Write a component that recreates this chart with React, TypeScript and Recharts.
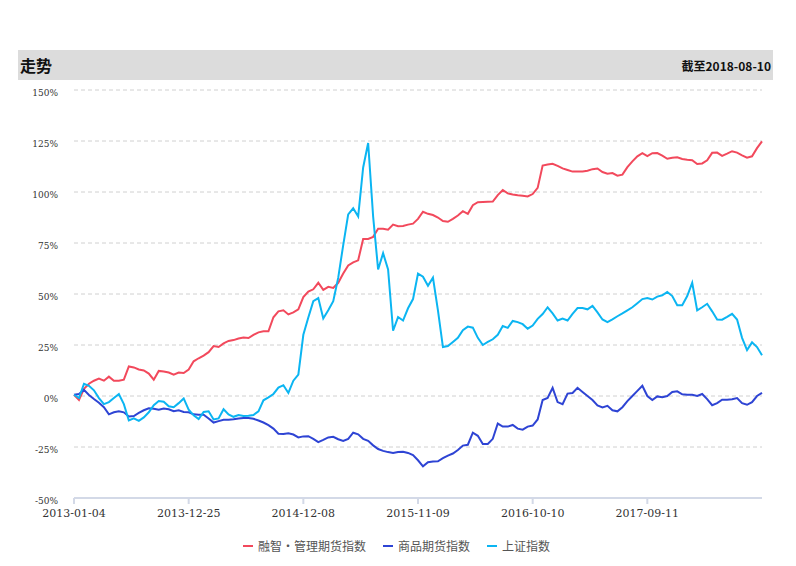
import { LineChart, Line, XAxis, YAxis, CartesianGrid } from "recharts";

const tickLabels = ["2013-01-04", "2013-12-25", "2014-12-08", "2015-11-09", "2016-10-10", "2017-09-11"];
const tickAt = [0, 23, 46, 69, 92, 115];
const yTicks = [-50, -25, 0, 25, 50, 75, 100, 125, 150];

const seriesNames = ["融智·管理期货指数", "商品期货指数", "上证指数"];
const seriesKeys = ["ronzhi", "commodity", "shanghai"];
const COLORS = ["#f2495c", "#2e44d4", "#0bb5f2"];

// cumulative return in %, one value per sample (~10 trading days apart)
const ronzhi = [
  0.6, -2.0, 3.5, 6.0, 7.5, 8.5, 7.5, 9.5, 7.5, 7.5,
  8.0, 14.5, 14.0, 13.0, 12.5, 11.0, 8.0, 12.3, 12.0, 11.5,
  10.5, 11.5, 11.3, 13.0, 17.0, 18.5, 19.8, 21.5, 24.5, 24.0,
  25.8, 27.0, 27.4, 28.2, 28.7, 28.4, 30.0, 31.2, 31.7, 31.7,
  38.6, 41.5, 42.0, 40.0, 41.0, 42.5, 48.5, 51.2, 52.3, 55.5,
  52.0, 53.5, 53.0, 55.5, 60.0, 64.0, 65.5, 66.5, 77.0, 77.0,
  78.0, 82.0, 82.0, 81.5, 84.0, 83.2, 83.3, 84.0, 84.5, 86.8,
  90.3, 89.3, 88.7, 87.5, 85.8, 85.4, 86.8, 88.5, 90.6, 89.3,
  93.5, 95.0, 95.1, 95.2, 95.3, 98.5, 101.0, 99.3, 98.8, 98.4,
  98.2, 97.8, 99.0, 102.0, 113.0, 113.5, 113.8, 112.8, 111.6, 110.8,
  110.0, 110.0, 110.0, 110.4, 111.2, 111.5, 109.8, 109.0, 109.3, 108.0,
  108.5, 112.2, 115.0, 117.5, 119.0, 117.6, 119.0, 119.1, 117.8, 116.3,
  116.8, 117.0, 116.2, 115.8, 115.6, 113.7, 114.0, 115.5, 119.2, 119.3,
  117.7, 118.8, 120.0, 119.3, 118.0, 116.8, 117.5, 121.5, 124.8,
];

const commodity = [
  0.6, 1.0, 3.0, 0.5, -1.5, -3.3, -5.5, -9.0, -8.0, -7.5,
  -8.0, -10.0, -9.8, -8.3, -7.0, -6.0, -6.3, -6.7, -6.1, -6.5,
  -7.5, -7.0, -7.8, -8.0, -9.0, -9.2, -9.2, -11.0, -13.0, -12.3,
  -11.6, -11.6, -11.4, -11.0, -10.8, -10.8, -11.2, -12.0, -13.0, -14.3,
  -16.0, -18.5, -18.6, -18.3, -18.9, -20.3, -19.8, -19.7, -21.0, -22.6,
  -21.5, -20.3, -20.0, -21.2, -22.0, -21.0, -18.0, -18.8, -21.0, -22.0,
  -24.2, -26.0, -26.9, -27.5, -27.9, -27.4, -27.3, -27.9, -29.0, -31.5,
  -34.5, -32.5, -32.1, -32.0, -30.5, -29.2, -28.2, -26.5, -24.3, -23.9,
  -18.0, -19.5, -23.5, -23.5, -21.0, -13.5, -15.0, -15.0, -14.2, -16.0,
  -16.5, -15.0, -14.5, -11.5, -2.0, -1.0, 4.0, -3.0, -4.0, 1.2,
  1.5, 4.0, 2.0, 0.0, -2.0, -4.6, -5.6, -4.8, -7.0, -7.5,
  -5.5, -2.5, 0.0, 2.5, 5.0, 0.0, -2.0, -0.2, -0.6, 0.0,
  2.0, 2.3, 0.8, 0.6, 0.6, 0.0, 1.0, -1.5, -4.5, -3.5,
  -1.8, -1.8, -1.6, -1.0, -3.5, -4.3, -3.0, 0.0, 1.5,
];

const shanghai = [
  0.6, -1.0, 6.0, 5.0, 2.8, -1.0, -4.0, -3.0, -1.0, 1.0,
  -4.0, -12.0, -11.0, -12.2, -10.5, -8.0, -4.5, -2.5, -2.8, -5.0,
  -5.5, -3.5, -1.2, -6.7, -9.5, -11.3, -7.8, -7.5, -11.5, -11.0,
  -6.5, -9.0, -10.2, -9.3, -9.8, -9.7, -9.3, -7.5, -2.1, -0.7,
  1.0, 4.1, 5.3, 1.5, 7.5, 10.5, 30.0, 38.5, 46.5, 48.0,
  38.0, 42.0, 46.5, 58.0, 74.0, 89.0, 92.0, 88.0, 112.0, 124.0,
  88.0, 62.0, 70.0, 62.0, 32.0, 38.7, 37.0, 43.0, 47.5, 60.0,
  58.5, 54.0, 58.0, 42.0, 24.0, 24.5, 26.5, 28.5, 32.3, 34.0,
  33.5, 28.5, 25.0, 26.5, 27.8, 30.0, 34.3, 33.4, 36.8, 36.2,
  35.2, 33.0, 34.5, 37.8, 40.2, 43.5, 40.5, 37.0, 38.0, 37.0,
  40.3, 43.1, 43.1, 42.5, 44.2, 41.0, 37.5, 36.2, 37.6, 39.1,
  40.5, 42.0, 43.5, 45.5, 47.5, 48.0, 47.3, 48.7, 49.4, 51.0,
  49.0, 44.5, 44.5, 49.0, 55.5, 42.0, 43.5, 45.2, 41.5, 37.5,
  37.4, 38.8, 40.3, 37.5, 28.5, 22.5, 26.3, 24.0, 20.0,
];

const data = ronzhi.map((v, k) => ({
  k,
  ronzhi: v,
  commodity: commodity[k],
  shanghai: shanghai[k],
}));

const AXIS_FONT = "'DejaVu Serif', serif";
const CJK_FONT = "'Noto Sans CJK SC', 'Noto Sans', sans-serif";

export default function App() {
  return (
    <div style={{ position: "absolute", left: 0, top: 0, width: 796, height: 566, background: "#fff" }}>
      <div
        style={{
          position: "absolute",
          left: 18,
          top: 50,
          width: 755,
          height: 30,
          background: "#dcdcdc",
          fontFamily: CJK_FONT,
        }}
      >
        <span style={{ position: "absolute", left: 2, top: 3, fontSize: 16, fontWeight: 700, color: "#111" }}>走势</span>
        <span style={{ position: "absolute", right: 2, top: 7, fontSize: 12, fontWeight: 700, color: "#111" }}>
          截至2018-08-10
        </span>
      </div>

      <div style={{ position: "absolute", left: 0, top: 0 }}>
        <LineChart width={796} height={566} data={data} margin={{ top: 90, right: 34, bottom: 38, left: 14 }}>
          <CartesianGrid vertical={false} stroke="#d0d0d0" strokeDasharray="4 3" />
          <XAxis
            dataKey="k"
            type="number"
            domain={[0, 138]}
            ticks={tickAt}
            tickFormatter={(v: number) => tickLabels[tickAt.indexOf(v)] ?? ""}
            height={30}
            stroke="#d3d9e7"
            strokeWidth={2}
            tickSize={6}
            tickMargin={5}
            tick={{ fontFamily: AXIS_FONT, fontSize: 11, fill: "#333" }}
          />
          <YAxis
            domain={[-50, 150]}
            ticks={yTicks}
            width={60}
            axisLine={false}
            tickLine={false}
            tickMargin={10}
            tickFormatter={(v: number) => `${v}%`}
            tick={{ fontFamily: AXIS_FONT, fontSize: 9, fill: "#333", dy: 3 }}
          />
          {seriesKeys.map((key, i) => (
            <Line
              key={key}
              type="linear"
              dataKey={key}
              name={seriesNames[i]}
              stroke={COLORS[i]}
              strokeWidth={2}
              dot={false}
              isAnimationActive={false}
            />
          ))}
        </LineChart>
      </div>

      <div
        style={{
          position: "absolute",
          left: 243,
          top: 537,
          display: "flex",
          alignItems: "center",
          fontFamily: CJK_FONT,
          fontSize: 12,
          color: "#555",
        }}
      >
        {seriesNames.map((name, i) => (
          <div key={name} style={{ display: "flex", alignItems: "center", marginRight: 17 }}>
            <span style={{ display: "inline-block", width: 10, height: 2, background: COLORS[i], marginRight: 5 }} />
            <span>{name}</span>
          </div>
        ))}
      </div>
    </div>
  );
}
